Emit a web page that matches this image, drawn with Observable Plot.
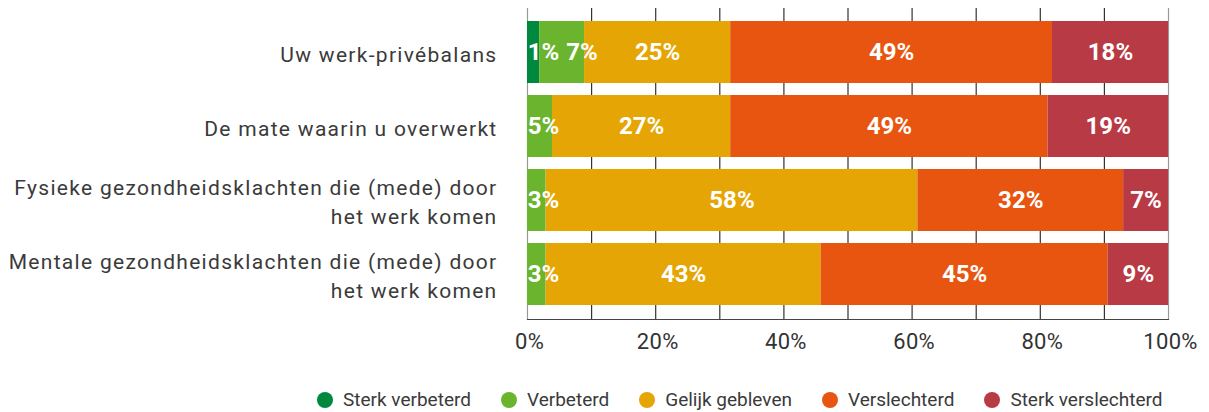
<!DOCTYPE html>
<html>
<head>
<meta charset="utf-8">
<script src="https://cdn.jsdelivr.net/npm/d3@7"></script>
<script src="https://cdn.jsdelivr.net/npm/@observablehq/plot@0.6"></script>
<style>
  html, body { margin: 0; padding: 0; background: #fff; }
  #legend { display: flex; align-items: center; padding-left: 317px; margin-top: 30px;
            font-family: Roboto, sans-serif; font-size: 19px; color: #3a3a3a; line-height: 20px; }
  .item { display: flex; align-items: center; margin-right: 30px; }
  .dot { width: 16px; height: 16px; border-radius: 50%; margin-right: 10px; }
  svg [aria-label="y-axis tick label"] text { letter-spacing: 1.3px; }
  svg [aria-label="x-axis tick label"] text { letter-spacing: 0.3px; }
</style>
</head>
<body>
<div id="chart"></div>
<div id="legend"></div>
<script>
// Categories (y axis)
const categories = [
  "Uw werk-privébalans",
  "De mate waarin u overwerkt",
  "Fysieke gezondheidsklachten die (mede) door\nhet werk komen",
  "Mentale gezondheidsklachten die (mede) door\nhet werk komen"
];

// Response categories (series) and colours
const series = ["Sterk verbeterd", "Verbeterd", "Gelijk gebleven", "Verslechterd", "Sterk verslechterd"];
const colors = ["#00883f", "#6ab42e", "#e5a504", "#e85511", "#b83a45"];

// Bar widths (percent), one entry per category
const sterkVerbeterd    = [1.9, 0, 0, 0];
const verbeterd         = [7.0, 3.9, 2.9, 2.9];
const gelijkGebleven    = [22.8, 27.8, 58.0, 42.9];
const verslechterd      = [50.2, 49.5, 32.1, 44.8];
const sterkVerslechterd = [18.1, 18.8, 7.0, 9.4];

// Printed percentages (null = no label)
const lblSterkVerbeterd    = [1, null, null, null];
const lblVerbeterd         = [7, 5, 3, 3];
const lblGelijkGebleven    = [25, 27, 58, 43];
const lblVerslechterd      = [49, 49, 32, 45];
const lblSterkVerslechterd = [18, 19, 7, 9];

// X tick labels
const xTicks = [0, 20, 40, 60, 80, 100];
const gridTicks = [10, 20, 30, 40, 50, 60, 70, 80, 90];

const valueSets = [sterkVerbeterd, verbeterd, gelijkGebleven, verslechterd, sterkVerslechterd];
const labelSets = [lblSterkVerbeterd, lblVerbeterd, lblGelijkGebleven, lblVerslechterd, lblSterkVerslechterd];

const rows = [];
const labels = [];
categories.forEach((cat, i) => {
  let cum = 0;
  let prev = -Infinity;
  series.forEach((s, j) => {
    const v = valueSets[j][i];
    rows.push({category: cat, series: s, value: v});
    const l = labelSets[j][i];
    if (l != null) {
      let pos = cum + v / 2;
      pos = Math.max(pos, 2.5, prev + 6);
      prev = pos;
      labels.push({category: cat, pos, label: l + "%"});
    }
    cum += v;
  });
});

const chart = Plot.plot({
  width: 1209,
  height: 360,
  marginLeft: 527,
  marginRight: 41,
  marginTop: 8,
  marginBottom: 41,
  style: {fontFamily: "Roboto, sans-serif", color: "#333", background: "white", overflow: "visible"},
  x: {domain: [0, 100]},
  y: {domain: categories, padding: 0.16},
  color: {domain: series, range: colors},
  marks: [
    Plot.ruleX(gridTicks, {stroke: "#333", strokeWidth: 1.2}),
    Plot.ruleX([0, 100], {stroke: "#999", strokeWidth: 1.2}),
    Plot.barX(rows, Plot.stackX({x: "value", y: "category", fill: "series", order: series})),
    Plot.text(labels, {x: "pos", y: "category", text: "label", fill: "white", fontWeight: 700, fontSize: 24}),
    Plot.axisX({ticks: xTicks, tickFormat: d => d + "%", tickSize: 0, tickPadding: 14, fontSize: 22, dx: 2, label: null, fill: "#333"}),
    Plot.axisY({tickSize: 0, tickPadding: 30, fontSize: 21, lineHeight: 1.38, label: null, fill: "#3a3a3a"}),
    Plot.frame({anchor: "bottom", stroke: "#444", strokeWidth: 1.2})
  ]
});
document.getElementById("chart").appendChild(chart);

const legend = document.getElementById("legend");
series.forEach((s, j) => {
  const item = document.createElement("div");
  item.className = "item";
  const dot = document.createElement("span");
  dot.className = "dot";
  dot.style.background = colors[j];
  const txt = document.createElement("span");
  txt.textContent = s;
  item.appendChild(dot);
  item.appendChild(txt);
  legend.appendChild(item);
});
</script>
</body>
</html>
